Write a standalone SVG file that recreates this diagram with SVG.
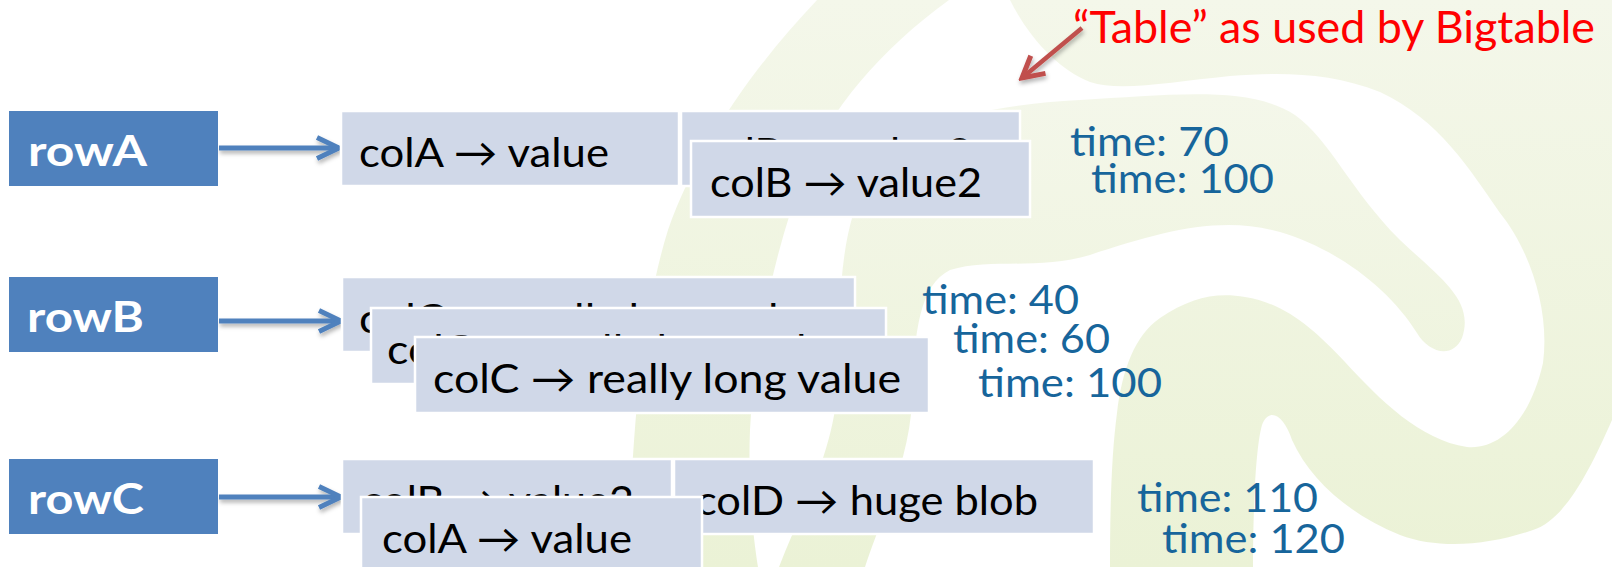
<svg xmlns="http://www.w3.org/2000/svg" width="1612" height="567" viewBox="0 0 1612 567">
<defs>
<linearGradient id="swirl" x1="0" y1="0" x2="0" y2="1">
<stop offset="0" stop-color="#f4f7ea"/>
<stop offset="1" stop-color="#ebf2d6"/>
</linearGradient>
<filter id="shadow" filterUnits="userSpaceOnUse" x="0" y="0" width="1612" height="567">
<feDropShadow dx="1" dy="3" stdDeviation="2" flood-color="#000" flood-opacity="0.3"/>
</filter>
<marker id="headBlue" markerUnits="userSpaceOnUse" markerWidth="30" markerHeight="30" viewBox="0 0 30 30" refX="26" refY="15" orient="auto">
<path d="M4,4.5 L26,15 L4,25.5" fill="none" stroke="#4f81bd" stroke-width="5"/>
</marker>
<marker id="headRed" markerUnits="userSpaceOnUse" markerWidth="30" markerHeight="30" viewBox="0 0 30 30" refX="26" refY="15" orient="auto">
<path d="M5,3.5 L26,15 L5,26.5" fill="none" stroke="#c0504d" stroke-width="5"/>
</marker>
<style>
.row rect{fill:#4f81bd}
.row text{font-family:Lato,"Liberation Sans",sans-serif;font-weight:bold;font-size:42px;fill:#ffffff}
.cell rect{fill:#d0d8e8;stroke:#ffffff;stroke-width:2.5}
.cell text{font-family:Lato,"Liberation Sans",sans-serif;font-size:40px;fill:#000000}
.time{font-family:Lato,"Open Sans",sans-serif;font-size:41px;fill:#17659b}
.title{font-family:Lato,"Open Sans",sans-serif;font-size:44px;fill:#ff0000}
.conn{fill:none;stroke:#4f81bd;stroke-width:5;marker-end:url(#headBlue);filter:url(#shadow)}
.callout{fill:none;stroke:#c0504d;stroke-width:4.5;marker-end:url(#headRed);filter:url(#shadow)}
</style>
</defs>
<rect x="0" y="0" width="1612" height="567" fill="#ffffff"/>
<g id="background" fill="url(#swirl)">
<path d="M628,567 C632,440 640,320 668,230 C700,140 760,60 817,0 L949,0 C880,50 830,110 805,170 C775,250 755,340 750,430 C748,480 752,530 758,567 Z"/>
<path d="M779,567 C805,500 835,450 838,380 C840,300 838,230 870,175 C910,120 990,105 1080,100 C1170,95 1250,85 1295,115 C1330,140 1350,190 1400,240 C1440,278 1475,300 1462,338 C1452,360 1428,352 1417,333 C1390,290 1340,250 1280,232 C1220,215 1160,232 1090,255 C1040,270 990,258 950,270 C920,285 914,330 912,400 C910,460 880,520 865,567 Z"/>
<path d="M1010,0 L1612,0 L1612,420 C1590,470 1565,520 1533,530 C1490,545 1440,550 1400,535 C1350,515 1310,480 1292,440 C1285,418 1270,405 1262,425 C1255,450 1253,520 1253,567 L1110,567 C1110,500 1112,450 1117,413 C1122,370 1135,335 1160,318 C1190,298 1215,292 1245,297 C1285,303 1315,330 1345,362 C1380,400 1420,440 1467,447 C1500,450 1530,420 1543,363 C1550,310 1530,250 1500,213 C1470,170 1440,120 1380,92 C1330,72 1280,72 1230,76 C1170,82 1120,92 1090,82 C1060,70 1030,40 1010,0 Z"/>
</g>
<g id="connectors">
<path class="conn" d="M219,148 L339,148"/>
<path class="conn" d="M219,321 L341,321"/>
<path class="conn" d="M219,497 L341,497"/>
<path class="callout" d="M1082,28 L1022,78"/>
</g>
<g id="rowA" class="row"><rect x="9" y="111" width="209" height="75"/><text x="28" y="166" textLength="119" lengthAdjust="spacingAndGlyphs">rowA</text></g>
<g id="rowB" class="row"><rect x="9" y="277" width="209" height="75"/><text x="27" y="332" textLength="117" lengthAdjust="spacingAndGlyphs">rowB</text></g>
<g id="rowC" class="row"><rect x="9" y="459" width="209" height="75"/><text x="28" y="514" textLength="116" lengthAdjust="spacingAndGlyphs">rowC</text></g>
<g id="rowA-colA" class="cell"><rect x="341" y="111" width="338" height="75"/><text x="359" y="167" textLength="250" lengthAdjust="spacingAndGlyphs">colA → value</text></g>
<g id="rowA-colB-old" class="cell"><rect x="681" y="111" width="339" height="75"/><text x="700" y="167" textLength="272" lengthAdjust="spacingAndGlyphs">colB → value2</text></g>
<g id="rowA-colB-new" class="cell"><rect x="691" y="141" width="339" height="76"/><text x="710" y="197" textLength="272" lengthAdjust="spacingAndGlyphs">colB → value2</text></g>
<g id="rowB-colC-1" class="cell"><rect x="342" y="277" width="513" height="75"/><text x="359" y="333" textLength="468" lengthAdjust="spacingAndGlyphs">colC → really long value</text></g>
<g id="rowB-colC-2" class="cell"><rect x="371" y="308" width="515" height="76"/><text x="387" y="364" textLength="468" lengthAdjust="spacingAndGlyphs">colC → really long value</text></g>
<g id="rowB-colC-3" class="cell"><rect x="415" y="337" width="514" height="76"/><text x="433" y="393" textLength="468" lengthAdjust="spacingAndGlyphs">colC → really long value</text></g>
<g id="rowC-colB" class="cell"><rect x="342" y="459" width="330" height="75"/><text x="362" y="515" textLength="272" lengthAdjust="spacingAndGlyphs">colB → value2</text></g>
<g id="rowC-colD" class="cell"><rect x="674" y="459" width="420" height="75"/><text x="696" y="515" textLength="342" lengthAdjust="spacingAndGlyphs">colD → huge blob</text></g>
<g id="rowC-colA" class="cell"><rect x="361" y="497" width="341" height="78"/><text x="382" y="553" textLength="250" lengthAdjust="spacingAndGlyphs">colA → value</text></g>
<g id="times">
<text class="time" x="1070" y="156" textLength="159" lengthAdjust="spacingAndGlyphs">time: 70</text>
<text class="time" x="1091" y="193" textLength="183" lengthAdjust="spacingAndGlyphs">time: 100</text>
<text class="time" x="922" y="314" textLength="157" lengthAdjust="spacingAndGlyphs">time: 40</text>
<text class="time" x="953" y="353" textLength="157" lengthAdjust="spacingAndGlyphs">time: 60</text>
<text class="time" x="978" y="397" textLength="184" lengthAdjust="spacingAndGlyphs">time: 100</text>
<text class="time" x="1137" y="512" textLength="181" lengthAdjust="spacingAndGlyphs">time: 110</text>
<text class="time" x="1162" y="553" textLength="183" lengthAdjust="spacingAndGlyphs">time: 120</text>
</g>
<g id="title"><text class="title" x="1073" y="43" textLength="522" lengthAdjust="spacingAndGlyphs">“Table” as used by Bigtable</text></g>
</svg>
